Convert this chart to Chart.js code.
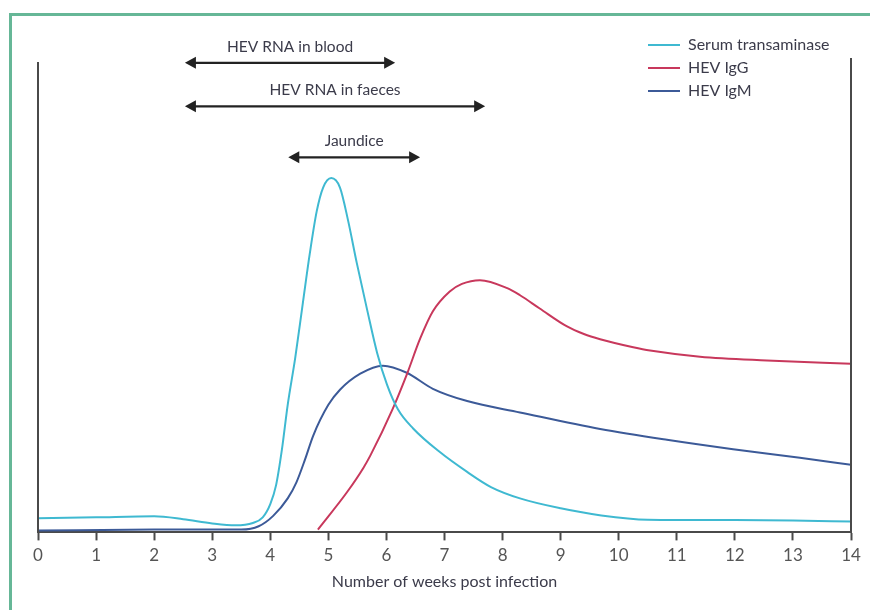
<!DOCTYPE html>
<html>
<head>
<meta charset="utf-8">
<script src="https://cdn.jsdelivr.net/npm/chart.js@4"></script>
<style>
  html, body { margin: 0; padding: 0; background: #fff; }
  #wrap { position: relative; width: 870px; height: 610px; overflow: hidden; }
  #frame { position: absolute; left: 9px; top: 13px; width: 900px; height: 700px;
           border-left: 3px solid #66b797; border-top: 3px solid #66b797; }
  canvas { position: absolute; left: 0; top: 0; }
</style>
</head>
<body>
<div id="wrap">
  <div id="frame"></div>
  <canvas id="chart" width="870" height="610"></canvas>
</div>
<script>
// weeks post infection / relative level (0-100)
const transWeeks = [0, 1, 2, 2.5, 3, 3.4, 3.7, 3.87, 4.0, 4.1, 4.2, 4.3, 4.43, 4.56, 4.68, 4.8, 4.91, 5.05, 5.2, 5.34, 5.49, 5.67, 5.84, 6.01, 6.2, 6.46, 6.92, 7.39, 7.8, 8.3, 9, 9.7, 10.5, 12, 13, 14];
const transValues = [3.0, 3.2, 3.4, 2.8, 1.9, 1.5, 2.0, 3.2, 6, 10, 17.5, 27, 37, 48.5, 59, 68, 73, 75, 73, 66, 57, 47, 38, 31.3, 26, 22, 17.0, 12.8, 9.6, 7.2, 5.1, 3.6, 2.7, 2.6, 2.5, 2.3];

const iggWeeks = [4.82, 5.32, 5.6, 5.72, 6.11, 6.35, 6.58, 6.8, 7.09, 7.3, 7.61, 8.08, 8.3, 8.64, 9.11, 9.4, 9.68, 10.25, 10.54, 11.4, 12.55, 14];
const iggValues = [0.6, 8.5, 13.6, 16.2, 26.2, 33.4, 41, 46.8, 51, 52.6, 53.4, 51.7, 50.2, 47.4, 43.6, 42, 40.9, 39.2, 38.5, 37.2, 36.4, 35.7];

const igmWeeks = [0, 2, 3.5, 3.8, 4.05, 4.3, 4.45, 4.6, 4.74, 5.0, 5.2, 5.55, 5.94, 6.35, 6.8, 7.39, 8.3, 9.68, 10.83, 11.97, 13.12, 14];
const igmValues = [0.4, 0.6, 0.6, 1.3, 3.5, 7.2, 10.6, 15.5, 20.5, 27, 30.2, 33.6, 35.3, 33.8, 30.4, 27.8, 25.4, 21.9, 19.6, 17.6, 15.8, 14.3];

const seriesNames = ['Serum transaminase', 'HEV IgG', 'HEV IgM'];
const seriesColors = ['#3fb9d1', '#c8385c', '#3c5a98'];

// phase arrows: label, start week, end week, level
const phaseLabels = ['HEV RNA in blood', 'HEV RNA in faeces', 'Jaundice'];
const phaseStart = [2.53, 2.53, 4.31];
const phaseEnd = [6.15, 7.70, 6.58];
const phaseLevel = [99.4, 90.2, 79.4];

const tickLabels = ['0', '1', '2', '3', '4', '5', '6', '7', '8', '9', '10', '11', '12', '13', '14'];

const FONT = 'Lato, "Open Sans", sans-serif';
const TEXT = '#3b3b4a';

function points(xs, ys) {
  return xs.map((x, i) => ({ x: x, y: ys[i] }));
}

const overlay = {
  id: 'overlay',
  afterDraw(chart) {
    const ctx = chart.ctx;
    const a = chart.chartArea;
    const xs = chart.scales.x;
    const ys = chart.scales.y;
    ctx.save();

    // side axis lines
    ctx.strokeStyle = '#4a4a4a';
    ctx.lineWidth = 2;
    ctx.beginPath();
    ctx.moveTo(a.left, a.top + 2);
    ctx.lineTo(a.left, a.bottom);
    ctx.moveTo(a.right, a.top - 2);
    ctx.lineTo(a.right, a.bottom);
    ctx.stroke();

    // phase arrows
    ctx.strokeStyle = '#222';
    ctx.fillStyle = '#222';
    ctx.font = '15.5px ' + FONT;
    ctx.textAlign = 'center';
    ctx.textBaseline = 'middle';
    phaseLabels.forEach((lab, i) => {
      const x1 = xs.getPixelForValue(phaseStart[i]);
      const x2 = xs.getPixelForValue(phaseEnd[i]);
      const y = ys.getPixelForValue(phaseLevel[i]);
      ctx.lineWidth = 2.2;
      ctx.beginPath();
      ctx.moveTo(x1 + 8, y);
      ctx.lineTo(x2 - 8, y);
      ctx.stroke();
      ctx.beginPath();
      ctx.moveTo(x1, y);
      ctx.lineTo(x1 + 11, y - 6);
      ctx.lineTo(x1 + 11, y + 6);
      ctx.closePath();
      ctx.moveTo(x2, y);
      ctx.lineTo(x2 - 11, y - 6);
      ctx.lineTo(x2 - 11, y + 6);
      ctx.closePath();
      ctx.fill();
      ctx.fillStyle = TEXT;
      ctx.fillText(lab, (x1 + x2) / 2, y - 16);
      ctx.fillStyle = '#222';
    });

    // legend
    ctx.font = '16px ' + FONT;
    ctx.textAlign = 'left';
    seriesNames.forEach((name, i) => {
      const y = 45 + i * 23;
      ctx.strokeStyle = seriesColors[i];
      ctx.lineWidth = 2;
      ctx.beginPath();
      ctx.moveTo(648, y);
      ctx.lineTo(680, y);
      ctx.stroke();
      ctx.fillStyle = TEXT;
      ctx.fillText(name, 688, y);
    });
    ctx.restore();
  }
};

const ctx = document.getElementById('chart').getContext('2d');

const chart = new Chart(ctx, {
  type: 'line',
  data: {
    datasets: [
      { label: seriesNames[0], data: points(transWeeks, transValues), borderColor: seriesColors[0] },
      { label: seriesNames[1], data: points(iggWeeks, iggValues), borderColor: seriesColors[1] },
      { label: seriesNames[2], data: points(igmWeeks, igmValues), borderColor: seriesColors[2] }
    ]
  },
  options: {
    responsive: false,
    animation: false,
    elements: {
      point: { radius: 0 },
      line: { borderWidth: 2, cubicInterpolationMode: 'monotone', fill: false }
    },
    layout: { padding: { left: 38, right: 19, top: 60, bottom: 15 } },
    plugins: {
      legend: { display: false },
      tooltip: { enabled: false }
    },
    scales: {
      x: {
        type: 'linear',
        min: 0,
        max: 14,
        afterBuildTicks: (scale) => {
          scale.ticks = tickLabels.map(t => ({ value: Number(t) }));
        },
        ticks: {
          autoSkip: false,
          maxRotation: 0,
          padding: 5,
          color: '#555',
          font: { family: FONT, size: 17 },
          callback: (v, i) => tickLabels[i]
        },
        grid: {
          drawOnChartArea: false,
          drawTicks: true,
          tickLength: 8,
          tickWidth: 2,
          color: '#4a4a4a'
        },
        border: { display: true, color: '#4a4a4a', width: 2 },
        title: {
          display: true,
          text: 'Number of weeks post infection',
          color: TEXT,
          font: { family: FONT, size: 16 },
          padding: { top: 1, bottom: 4 }
        }
      },
      y: {
        display: false,
        min: 0,
        max: 100
      }
    }
  },
  plugins: [overlay]
});
</script>
</body>
</html>
